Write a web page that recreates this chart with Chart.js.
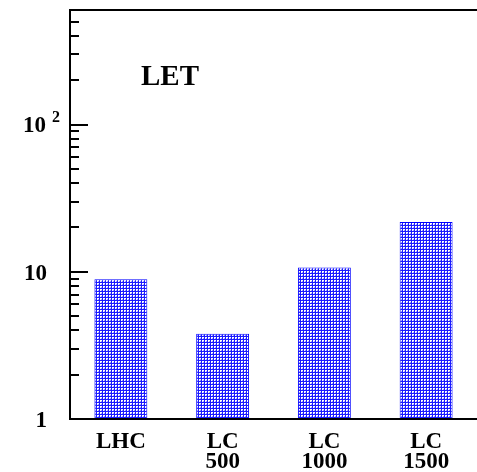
<!DOCTYPE html>
<html>
<head>
<meta charset="utf-8">
<script src="https://cdn.jsdelivr.net/npm/chart.js@4.4.1/dist/chart.umd.min.js"></script>
<style>
  html, body { margin: 0; padding: 0; background: #fff; }
  #wrap { width: 477px; height: 472px; }
</style>
</head>
<body>
<div id="wrap"><canvas id="chart" width="477" height="472"></canvas></div>
<script>
// values (log scale)
const categories = [['LHC'], ['LC', '500'], ['LC', '1000'], ['LC', '1500']];
const letValues = [8.9, 3.8, 10.7, 21.8];
const yMajorTicks = [1, 10, 100];
const yMajorLabels = ['1', '10', '10|2'];
const yMinorTicks = [2, 3, 4, 5, 6, 7, 8, 9, 20, 30, 40, 50, 60, 70, 80, 90, 200, 300, 400, 500];
const yMin = 1;
const yMax = 600;
const panelLabel = 'LET';

const SERIF = '"Liberation Serif", "Times New Roman", serif';

// blue grid with small white holes, like the original hatch
function hatchPattern() {
    const c = document.createElement('canvas');
    c.width = 3; c.height = 3;
    const g = c.getContext('2d');
    g.fillStyle = '#ffffff';
    g.fillRect(0, 0, 3, 3);
    g.fillStyle = '#1a1aff';
    g.fillRect(0, 0, 3, 1);
    g.fillRect(0, 0, 1, 3);
    g.fillStyle = '#9a9aff';
    g.fillRect(2, 2, 1, 1);
    return g.createPattern(c, 'repeat');
}

// frame, inward ticks and labels drawn by hand
const framePlugin = {
    id: 'frame',
    afterDraw(chart) {
        const ctx = chart.ctx;
        const a = chart.chartArea;
        const ys = chart.scales.y;
        const xs = chart.scales.x;
        ctx.save();
        ctx.strokeStyle = '#000';
        ctx.lineWidth = 2;
        ctx.beginPath();
        ctx.moveTo(chart.width, a.top);
        ctx.lineTo(a.left, a.top);
        ctx.lineTo(a.left, a.bottom);
        ctx.lineTo(chart.width, a.bottom);
        ctx.stroke();

        yMinorTicks.forEach(v => {
            const y = Math.round(ys.getPixelForValue(v));
            ctx.beginPath();
            ctx.moveTo(a.left, y);
            ctx.lineTo(a.left + 9, y);
            ctx.stroke();
        });
        yMajorTicks.forEach(v => {
            const y = Math.round(ys.getPixelForValue(v));
            ctx.beginPath();
            ctx.moveTo(a.left, y);
            ctx.lineTo(a.left + 18, y);
            ctx.stroke();
        });

        ctx.fillStyle = '#000';
        ctx.textBaseline = 'middle';
        yMajorTicks.forEach((v, i) => {
            const y = ys.getPixelForValue(v);
            const parts = yMajorLabels[i].split('|');
            ctx.font = 'bold 23px ' + SERIF;
            ctx.textAlign = 'right';
            if (parts.length > 1) {
                ctx.fillText(parts[0], 46, y + 2);
                ctx.font = 'bold 16px ' + SERIF;
                ctx.textAlign = 'left';
                ctx.fillText(parts[1], 52, y - 7);
            } else {
                ctx.fillText(parts[0], 47, y + 2);
            }
        });

        ctx.font = 'bold 23px ' + SERIF;
        ctx.textAlign = 'center';
        ctx.textBaseline = 'alphabetic';
        categories.forEach((lines, i) => {
            const x = xs.getPixelForValue(i);
            lines.forEach((t, k) => ctx.fillText(t, x, 448 + k * 20));
        });

        ctx.font = 'bold 29px ' + SERIF;
        ctx.fillText(panelLabel, 170, 85);
        ctx.restore();
    }
};

const ctx = document.getElementById('chart').getContext('2d');
new Chart(ctx, {
    type: 'bar',
    data: {
        labels: categories,
        datasets: [{
            label: panelLabel,
            data: letValues,
            backgroundColor: hatchPattern(),
            borderColor: '#0000ff',
            borderWidth: 1,
            borderSkipped: false,
            barPercentage: 0.52,
            categoryPercentage: 1
        }]
    },
    options: {
        responsive: false,
        animation: false,
        layout: { padding: { top: 10, right: 0, left: 0, bottom: 0 } },
        plugins: { legend: { display: false }, tooltip: { enabled: false } },
        scales: {
            x: {
                grid: { display: false },
                border: { display: false },
                ticks: { display: false },
                afterFit: s => { s.height = 53; }
            },
            y: {
                type: 'logarithmic',
                min: yMin,
                max: yMax,
                grid: { display: false },
                border: { display: false },
                ticks: { display: false },
                afterFit: s => { s.width = 70; }
            }
        }
    },
    plugins: [framePlugin]
});
</script>
</body>
</html>
